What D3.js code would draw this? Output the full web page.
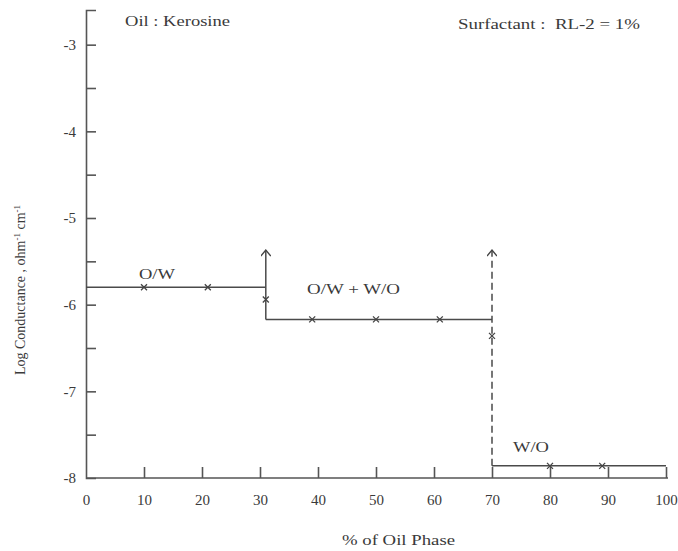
<!DOCTYPE html>
<html lang="en">
<head>
<meta charset="UTF-8">
<title>Log Conductance vs % of Oil Phase</title>
<script src="https://cdn.jsdelivr.net/npm/d3@7"></script>
<style>
    body { margin: 0; background: #fff; }
    svg text { font-family: "Liberation Serif", "DejaVu Serif", serif; fill: #3a3a3a; }
    .axis path, .axis line { stroke: #555; stroke-width: 1.6; }
    .axis text { font-size: 15px; fill: #3a3a3a; }
</style>
</head>
<body>
<script>
    var w = 678, h = 551;

    // x ticks and y ticks
    var xTicks = [0, 10, 20, 30, 40, 50, 60, 70, 80, 90, 100];
    var yTicks = [-8, -7, -6, -5, -4, -3];
    var yMinor = [-7.5, -6.5, -5.5, -4.5, -3.5];

    // step curve segments (x in %, y in log conductance)
    var owLine   = [[0, -5.8], [31, -5.8]];
    var owwoLine = [[31, -6.17], [70, -6.17]];
    var woLine   = [[70, -7.86], [100, -7.86]];
    var jump1    = [[31, -6.17], [31, -5.37]];
    var jump2    = [[70, -7.86], [70, -5.37]];

    // measured points
    var owPts   = [[10, -5.8], [21, -5.8], [31, -5.94]];
    var owwoPts = [[39, -6.17], [50, -6.17], [61, -6.17], [70, -6.36]];
    var woPts   = [[80, -7.86], [89, -7.86]];

    var x = d3.scaleLinear().domain([0, 100]).range([86, 666]);
    var y = d3.scaleLinear().domain([-8, -2.6]).range([478, 10]);

    var svg = d3.select("body").append("svg")
        .attr("width", w).attr("height", h);

    svg.append("defs").append("marker")
        .attr("id", "arrow")
        .attr("viewBox", "0 0 10 10")
        .attr("refX", 9).attr("refY", 5)
        .attr("markerWidth", 10).attr("markerHeight", 10)
        .attr("markerUnits", "userSpaceOnUse")
        .attr("orient", "auto")
        .append("path")
        .attr("d", "M3,0 L9,5 L3,10")
        .attr("fill", "none")
        .attr("stroke", "#444")
        .attr("stroke-width", 1.4);

    // y axis, ticks pointing inward
    svg.append("g").attr("class", "axis")
        .attr("transform", "translate(" + x(0) + ",0)")
        .call(d3.axisLeft(y).tickValues(yTicks).tickSize(-10).tickPadding(10)
            .tickFormat(function (d) { return String(d); }))
        .call(function (g) { g.selectAll(".tick").filter(function (d) { return d === -8; }).select("line").remove(); });

    svg.append("g").attr("class", "axis")
        .attr("transform", "translate(" + x(0) + ",0)")
        .call(d3.axisLeft(y).tickValues(yMinor).tickSize(-10).tickFormat(""))
        .call(function (g) { g.select(".domain").remove(); });

    // x axis
    svg.append("g").attr("class", "axis")
        .attr("transform", "translate(0," + y(-8) + ")")
        .call(d3.axisBottom(x).tickValues(xTicks).tickSize(-11).tickPadding(16))
        .call(function (g) { g.select(".domain").attr("d", "M" + (x(0)) + ",0H" + (x(100) + 2)); })
        .call(function (g) { g.selectAll(".tick").filter(function (d) { return d === 0; }).select("line").remove(); });

    var line = d3.line()
        .x(function (d) { return x(d[0]); })
        .y(function (d) { return y(d[1]); });

    [owLine, owwoLine, woLine].forEach(function (seg) {
        svg.append("path").attr("d", line(seg))
            .attr("fill", "none").attr("stroke", "#4a4a4a").attr("stroke-width", 1.5);
    });

    svg.append("path").attr("d", line(jump1))
        .attr("fill", "none").attr("stroke", "#4a4a4a").attr("stroke-width", 1.5)
        .attr("marker-end", "url(#arrow)");

    svg.append("path").attr("d", line(jump2))
        .attr("fill", "none").attr("stroke", "#4a4a4a").attr("stroke-width", 1.5)
        .attr("stroke-dasharray", "7,4")
        .attr("marker-end", "url(#arrow)");

    // x markers
    var pts = owPts.concat(owwoPts, woPts);
    svg.selectAll("path.pt")
        .data(pts)
        .enter()
        .append("path")
        .attr("class", "pt")
        .attr("d", function (d) {
            var px = x(d[0]), py = y(d[1]), s = 3;
            return "M" + (px - s) + "," + (py - s) + "L" + (px + s) + "," + (py + s) +
                "M" + (px + s) + "," + (py - s) + "L" + (px - s) + "," + (py + s);
        })
        .attr("stroke", "#444").attr("stroke-width", 1.3);

    // annotations (the scan is stretched sideways, so text is widened to fit)
    function label(tx, ty, str, len) {
        return svg.append("text").attr("x", tx).attr("y", ty)
            .attr("font-size", "15px")
            .attr("xml:space", "preserve")
            .attr("textLength", len).attr("lengthAdjust", "spacingAndGlyphs")
            .text(str);
    }
    label(125, 26, "Oil : Kerosine", 105);
    label(458, 29, "Surfactant :  RL-2 = 1%", 182);
    label(139, 279, "O/W", 36);
    label(307, 294, "O/W + W/O", 93);
    label(513, 452, "W/O", 36);
    label(342, 545, "% of Oil Phase", 113);

    var yl = svg.append("text")
        .attr("transform", "translate(25,290) rotate(-90)")
        .attr("text-anchor", "middle").attr("font-size", "14px");
    yl.append("tspan").text("Log Conductance , ohm");
    yl.append("tspan").attr("baseline-shift", "super").attr("font-size", "9px").text("-1");
    yl.append("tspan").text(" cm");
    yl.append("tspan").attr("baseline-shift", "super").attr("font-size", "9px").text("-1");
</script>
</body>
</html>
